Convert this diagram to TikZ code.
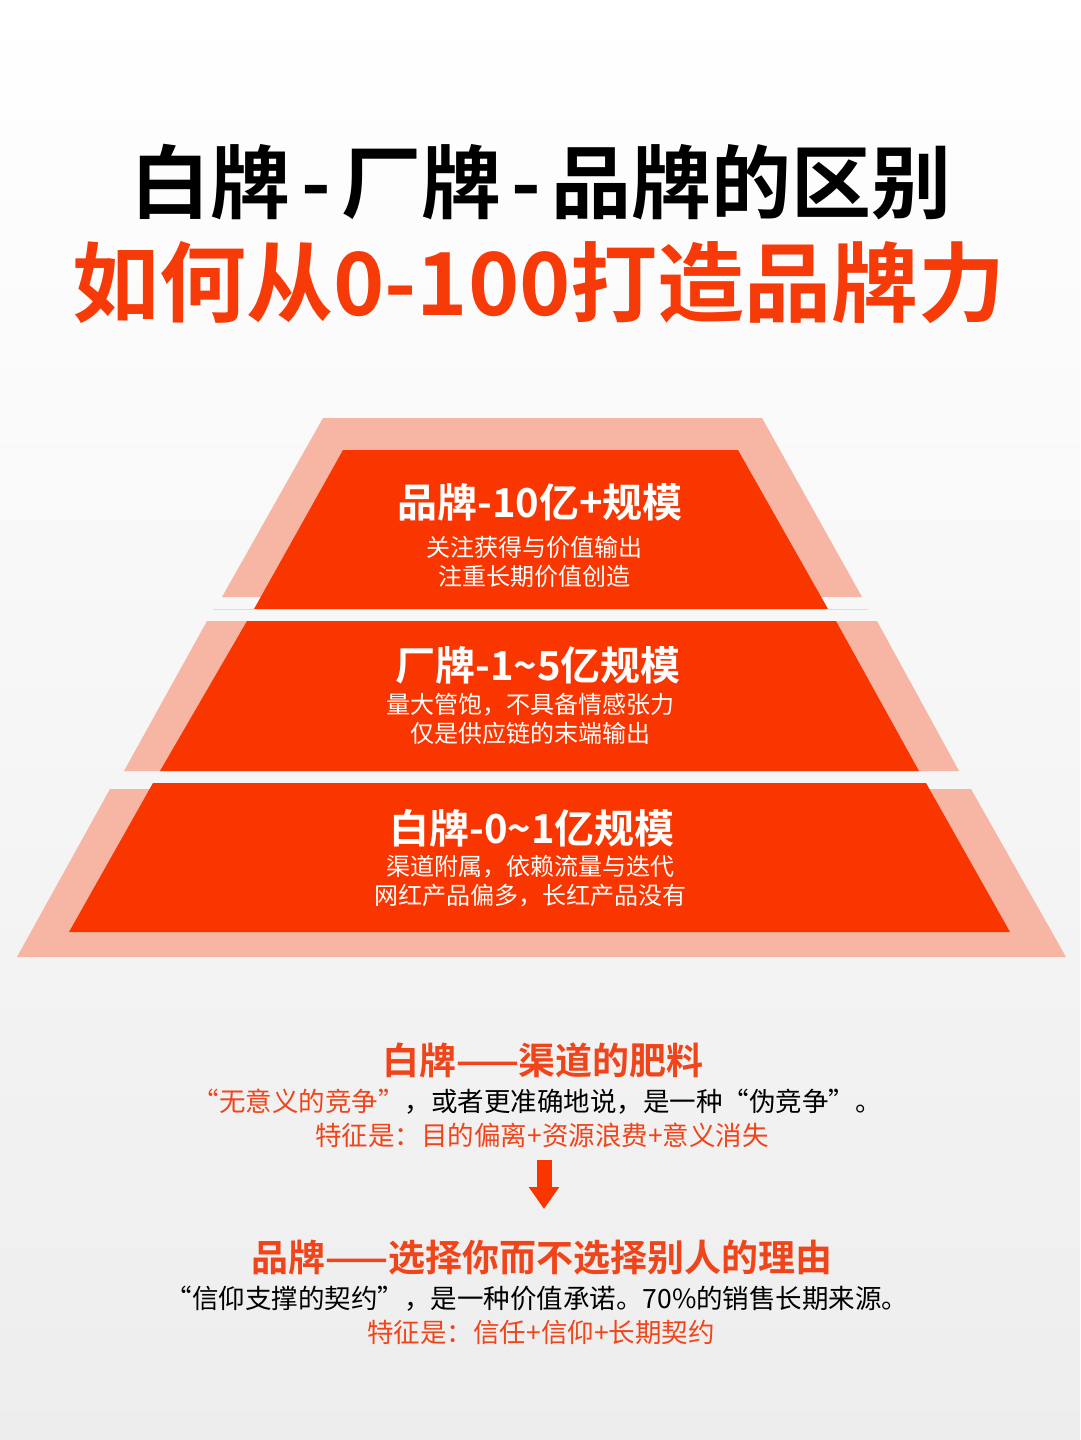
\documentclass[tikz,border=0pt]{standalone}
\usepackage{fontspec}
\setmainfont{Noto Sans CJK SC}[BoldFont={Noto Sans CJK SC Bold}]
\usetikzlibrary{arrows.meta}

\definecolor{rosso}{HTML}{FA3600}
\definecolor{rosa}{HTML}{F7B5A3}
\definecolor{arancio}{HTML}{F0451A}
\definecolor{titolorosso}{HTML}{F63A08}

\newcommand\trattino{\hspace{0.13em}-\hspace{0.13em}}

\tikzset{
  titolo/.style={inner sep=0pt, font=\bfseries\fontsize{80}{90}\selectfont},
  livello/.style={inner sep=0pt, text=white, font=\bfseries\fontsize{40}{46}\selectfont},
  nota/.style={inner sep=0pt, text=white, align=center, font=\fontsize{24}{29}\selectfont},
  sottotitolo/.style={inner sep=0pt, text=arancio, font=\bfseries\fontsize{37}{42}\selectfont},
  riga/.style={inner sep=0pt, font=\fontsize{26.5}{32}\selectfont},
  freccia/.style={draw=rosso, line width=15pt, -{Triangle[width=29pt,length=22pt]}}
}

\begin{document}
\begin{tikzpicture}[x=1pt,y=-1pt]
    % Sfondo con leggero gradiente
    \shade[top color=white, bottom color=black!7] (0,0) rectangle (1080,1440);
    \useasboundingbox (0,0) rectangle (1080,1440);

    % Titolo
    \node[titolo] (titolo1) at (541,182) {白牌\trattino 厂牌\trattino 品牌的区别};
    \node[titolo, text=titolorosso, font=\bfseries\fontsize{87}{96}\selectfont] (titolo2) at (539,283) {如何从0-100打造品牌力};

    % Piramide: livello superiore
    \fill[rosa] (323,418) -- (762,418) -- (862,597) -- (222,597) -- cycle;
    \fill[rosso] (343,450) -- (738,450) -- (828,609) -- (254,609) -- cycle;
    \draw[rosa!60, line width=1pt] (213,609) -- (868,609);

    % Piramide: livello centrale
    \fill[rosa] (207,621) -- (877,621) -- (959,771) -- (124,771) -- cycle;
    \fill[rosso] (247,621) -- (836,621) -- (919,771) -- (160,771) -- cycle;

    % Piramide: livello inferiore
    \fill[rosa] (110,789) -- (971,789) -- (1066,957) -- (17,957) -- cycle;
    \fill[rosso] (153,783) -- (926,783) -- (1010,932) -- (69,932) -- cycle;

    % Testi dei livelli
    \node[livello] (pinpai) at (540,502) {品牌-10亿+规模};
    \node[nota] (pinpainota) at (534,562) {关注获得与价值输出\\注重长期价值创造};
    \node[livello] (changpai) at (538,665) {厂牌-1\textasciitilde 5亿规模};
    \node[nota] (changpainota) at (530,719) {量大管饱，不具备情感张力\\仅是供应链的末端输出};
    \node[livello] (baipai) at (532,828) {白牌-0\textasciitilde 1亿规模};
    \node[nota] (baipainota) at (530,881) {渠道附属，依赖流量与迭代\\网红产品偏多，长红产品没有};

    % Parte inferiore: confronto
    \node[sottotitolo] (sotto1) at (543,1060) {白牌——渠道的肥料};
    \node[riga] (riga1) at (537,1102) {{\color{arancio}“无意义的竞争”}，或者更准确地说，是一种“伪竞争”。};
    \node[riga, text=arancio] (tratti1) at (542,1135) {特征是：目的偏离+资源浪费+意义消失};

    \coordinate (frecciasu) at (544,1160);
    \coordinate (frecciagiu) at (544,1209);
    \draw[freccia] (frecciasu) -- (frecciagiu);

    \node[sottotitolo] (sotto2) at (542,1258) {品牌——选择你而不选择别人的理由};
    \node[riga] (riga2) at (537,1299) {“信仰支撑的契约”，是一种价值承诺。70\%的销售长期来源。};
    \node[riga, text=arancio] (tratti2) at (541,1332) {特征是：信任+信仰+长期契约};
\end{tikzpicture}
\end{document}
